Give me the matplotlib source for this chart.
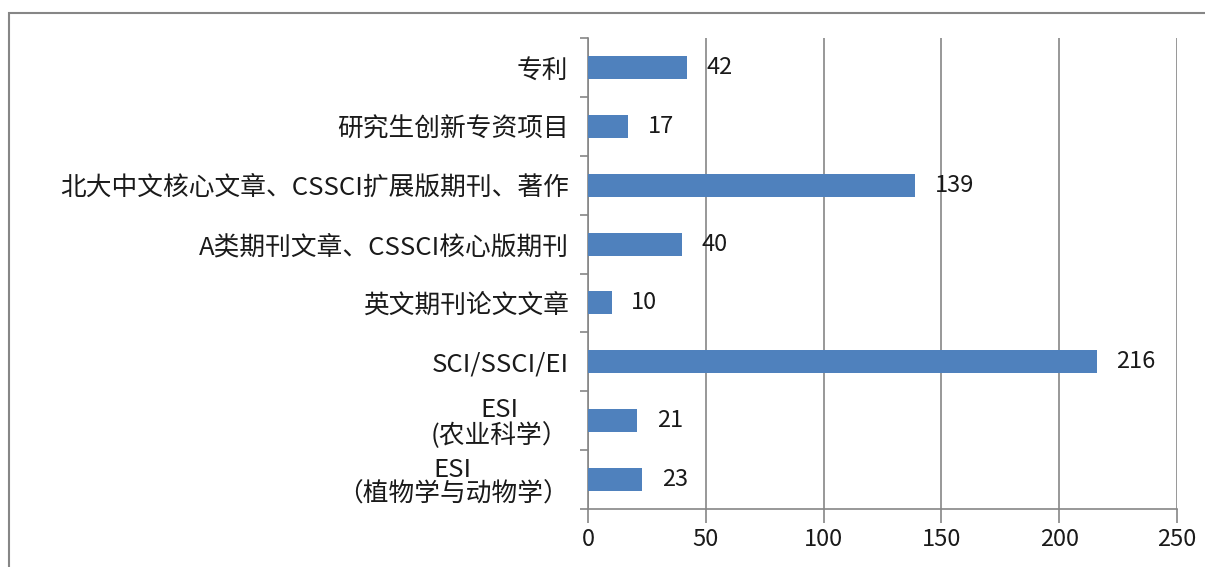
import matplotlib
matplotlib.use("Agg")
import matplotlib.pyplot as plt
import numpy as np
from matplotlib.patches import Rectangle

plt.rcParams['font.family'] = ['Noto Sans CJK SC', 'DejaVu Sans']

categories = ["专利", "研究生创新专资项目", "北大中文核心文章、CSSCI扩展版期刊、著作",
              "A类期刊文章、CSSCI核心版期刊", "英文期刊论文文章", "SCI/SSCI/EI",
              "ESI\n(农业科学）", "ESI\n（植物学与动物学）"]
values = [42, 17, 139, 40, 10, 216, 21, 23]
xticks = [0, 50, 100, 150, 200, 250]

fig = plt.figure(figsize=(12.05, 5.67), dpi=100)
ax = fig.add_axes([588/1205, 1-509/567, (1177-588)/1205, (509-38)/567])

gray = '#868686'
txt = '#1a1a1a'
y = np.arange(len(categories))
ax.barh(y, values, height=0.39, color='#4F81BD', zorder=3)
ax.set_ylim(len(categories)-0.5, -0.5)
ax.set_xlim(0, 250)
ax.set_xticks(xticks)
ax.set_xticklabels([str(t) for t in xticks], fontsize=17, color=txt)
ax.grid(axis='x', color=gray, linewidth=1.2, zorder=0)
ax.set_yticks(y)
ax.set_yticklabels(categories, fontsize=18.5, color=txt, multialignment='center',
                   linespacing=0.95)
ax.tick_params(axis='y', which='major', length=0, pad=14)
ax.set_yticks(np.arange(-0.5, len(categories)+0.5, 1), minor=True)
ax.tick_params(axis='y', which='minor', length=6, color=gray, width=1.2, direction='out')
ax.tick_params(axis='x', length=10, color=gray, width=1.2, pad=4)
for s in ['top', 'right']:
    ax.spines[s].set_visible(False)
for s in ['left', 'bottom']:
    ax.spines[s].set_color(gray)
    ax.spines[s].set_linewidth(1.2)

for yi, v in zip(y, values):
    ax.annotate(str(v), (v, yi), xytext=(14, 0), textcoords='offset points',
                va='center', ha='left', fontsize=17, color=txt)

fig.patches.append(Rectangle((9/1205, -0.1), 1.2, 1-13/567+0.1, transform=fig.transFigure,
                             fill=False, edgecolor=gray, linewidth=1.5))

fig.savefig('out.png', dpi=100)
